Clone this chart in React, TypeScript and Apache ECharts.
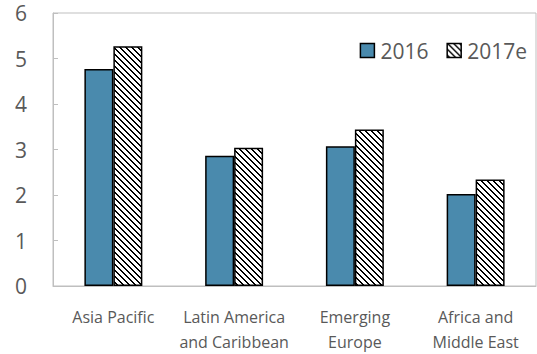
import React, { useEffect, useRef } from "react";
import * as echarts from "echarts";

const categories = ["Asia Pacific", "Latin America\nand Caribbean", "Emerging\nEurope", "Africa and\nMiddle East"];
const values2016 = [4.77, 2.86, 3.07, 2.02];
const values2017e = [5.27, 3.04, 3.44, 2.34];
const yTicks = [0, 1, 2, 3, 4, 5, 6];

// Small tile with a backslash-style diagonal stroke, tiled as the bar fill
function makeHatch(): HTMLCanvasElement {
  const s = 6;
  const c = document.createElement("canvas");
  c.width = s;
  c.height = s;
  const ctx = c.getContext("2d")!;
  ctx.fillStyle = "#ffffff";
  ctx.fillRect(0, 0, s, s);
  ctx.fillStyle = "#000000";
  for (let i = 0; i < s; i++) {
    ctx.fillRect(i, i, 2, 1);
    if (i === s - 1) ctx.fillRect(0, i, 1, 1);
  }
  return c;
}

export default function App() {
  const ref = useRef<HTMLDivElement>(null);
  useEffect(() => {
    const chart = echarts.init(ref.current!, undefined, { renderer: "svg" });
    const hatch = { image: makeHatch(), repeat: "repeat" } as any;
    const font = "'Open Sans', 'Noto Sans', sans-serif";
    chart.setOption({
      animation: false,
      textStyle: { fontFamily: font },
      grid: { left: 53, top: 13, right: 1, bottom: 62, show: true, borderColor: "#bfbfbf", borderWidth: 1 },
      legend: {
        right: 5,
        top: 35,
        icon: "rect",
        itemWidth: 14,
        itemHeight: 14,
        itemGap: 18,
        itemStyle: { borderColor: "#000000", borderWidth: 1.5 },
        textStyle: { fontSize: 21, color: "#595959", fontFamily: font, padding: [0, 0, 0, 1] },
        data: ["2016", "2017e"],
      },
      xAxis: {
        type: "category",
        data: categories,
        axisLine: { lineStyle: { color: "#bfbfbf" } },
        axisTick: { inside: true, length: 5, lineStyle: { color: "#bfbfbf" } },
        axisLabel: { interval: 0, fontSize: 16, color: "#595959", lineHeight: 25, margin: 18, fontFamily: font },
      },
      yAxis: {
        type: "value",
        min: yTicks[0],
        max: yTicks[yTicks.length - 1],
        interval: 1,
        splitLine: { show: false },
        axisLine: { show: true, lineStyle: { color: "#bfbfbf" } },
        axisTick: { show: true, inside: true, length: 5, lineStyle: { color: "#bfbfbf" } },
        axisLabel: { fontSize: 21, color: "#595959", margin: 26, fontFamily: font },
      },
      series: [
        {
          name: "2016",
          type: "bar",
          data: values2016,
          barGap: "0%",
          barCategoryGap: "52%",
          itemStyle: { color: "#4a8aad", borderColor: "#000000", borderWidth: 1.5 },
        },
        {
          name: "2017e",
          type: "bar",
          data: values2017e,
          itemStyle: { color: hatch, borderColor: "#000000", borderWidth: 1.5 },
        },
      ],
    });
    return () => chart.dispose();
  }, []);
  return <div ref={ref} style={{ width: 537, height: 354, position: "absolute", left: 0, top: 0 }} />;
}
